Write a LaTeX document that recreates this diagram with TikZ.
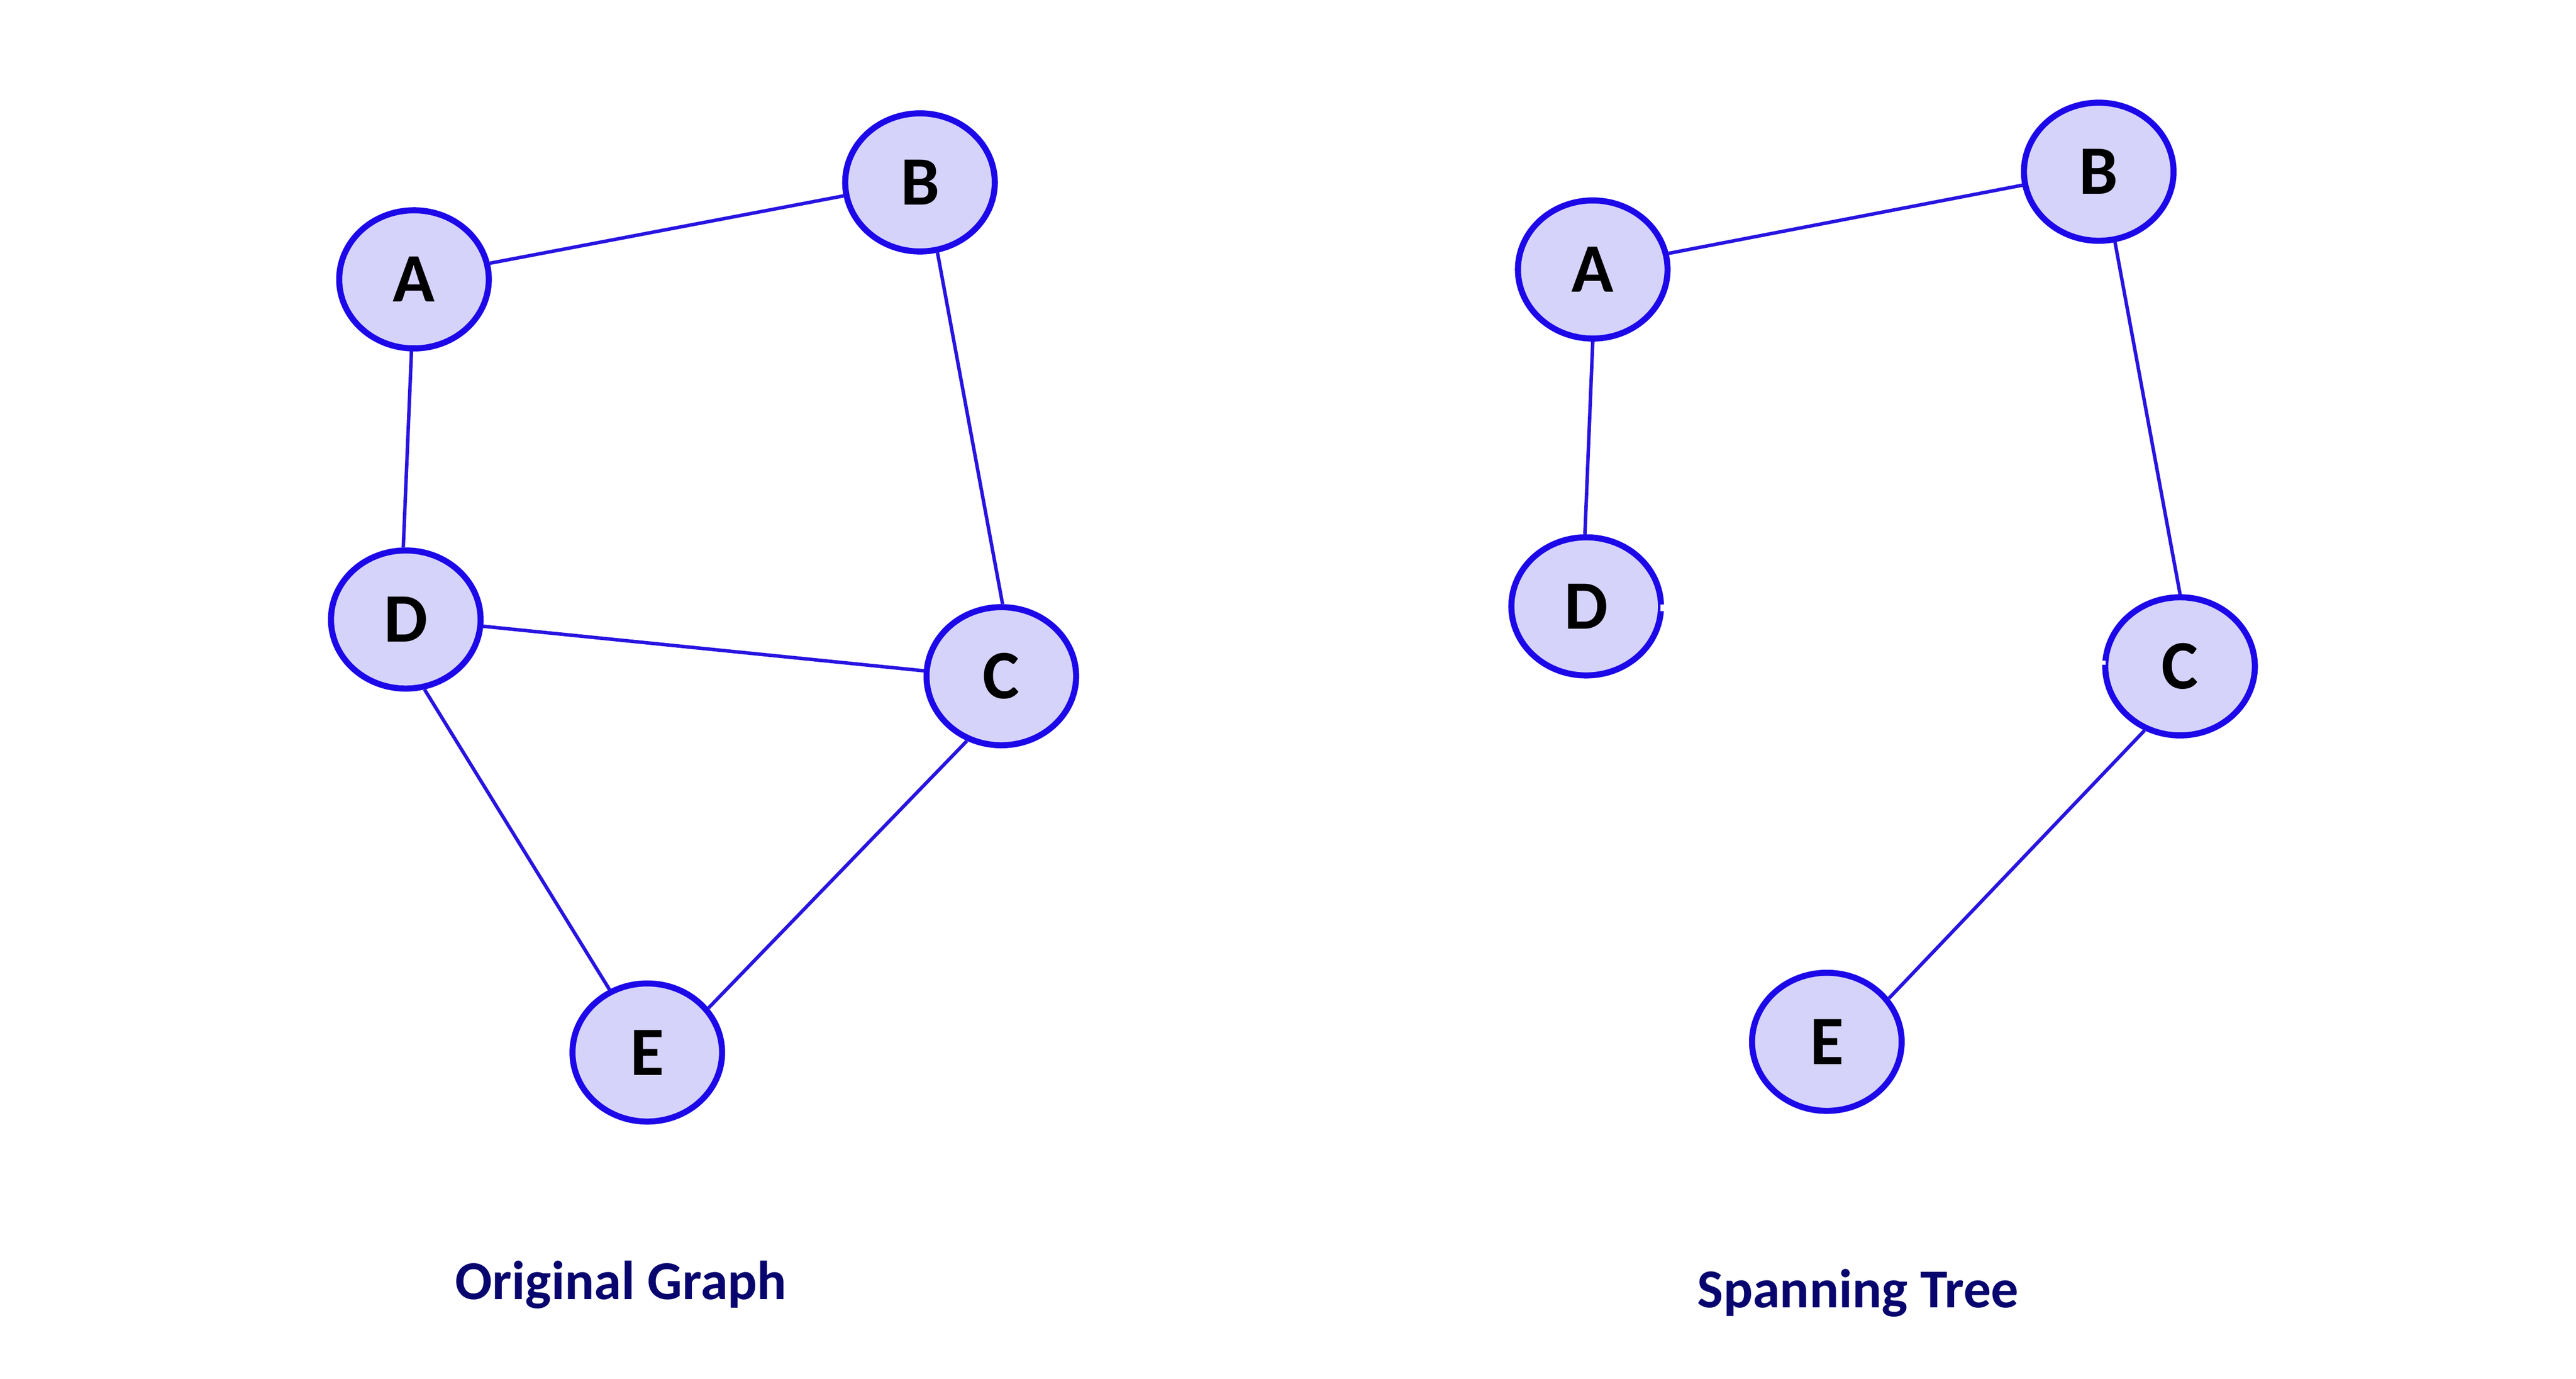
\documentclass[tikz,border=0pt]{standalone}
\usepackage{fontspec}
\setmainfont{Carlito}
\usetikzlibrary{shapes.geometric,calc}
\definecolor{nodefill}{RGB}{214,211,250}
\definecolor{nodeline}{RGB}{28,8,232}
\definecolor{edgeline}{RGB}{40,20,225}
\definecolor{captext}{RGB}{8,6,110}
\tikzset{
  vtx/.style={ellipse, draw=nodeline, fill=nodefill, line width=1.05pt,
    minimum width=0.91cm, minimum height=0.84cm, inner sep=0pt,
    font=\fontsize{12}{14}\selectfont\bfseries, text=black},
  edge/.style={draw=edgeline, line width=0.6pt},
  caption/.style={font=\fontsize{9.5}{11}\selectfont\bfseries, text=captext},
  gap/.style={fill=white, draw=none}
}
\begin{document}
\begin{tikzpicture}[x=0.01cm,y=-0.01cm]
\useasboundingbox (0,0) rectangle (1568,839);
% Original graph
\node[vtx] (A1) at (252,170) {A};
\node[vtx] (B1) at (560,111) {B};
\node[vtx] (D1) at (247,377) {D};
\node[vtx] (C1) at (609.5,411.5) {C};
\node[vtx] (E1) at (394,640.5) {E};
\draw[edge] (A1.12) -- (B1.190);
\draw[edge] (A1.-92) -- (D1.92);
\draw[edge] (B1.-76) -- (C1.89);
\draw[edge] (D1.-5) -- (C1.176);
\draw[edge] (D1.-75) -- (E1.121);
\draw[edge] (C1.-118) -- (E1.36);
\node[caption] (cap1) at (378,782) {Original Graph};
% Spanning tree
\node[vtx] (A2) at (969.5,164) {A};
\node[vtx] (B2) at (1277.5,104.5) {B};
\node[vtx] (D2) at (965.5,369) {D};
\node[vtx] (C2) at (1327,405.5) {C};
\node[vtx] (E2) at (1112,634) {E};
\draw[edge] (A2.12) -- (B2.190);
\draw[edge] (A2.-90) -- (D2.91);
\draw[edge] (B2.-77) -- (C2.90);
\draw[edge] (C2.-119) -- (E2.35);
\fill[gap] ($(D2.east)+(-2.2,-1)$) rectangle ($(D2.east)+(2.6,3)$);
\fill[gap] ($(C2.west)+(-2.6,-3.5)$) rectangle ($(C2.west)+(2.2,-1)$);
\node[caption] (cap2) at (1131,787) {Spanning Tree};
\end{tikzpicture}
\end{document}
